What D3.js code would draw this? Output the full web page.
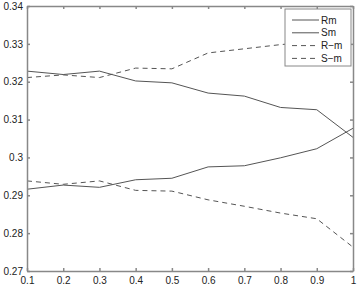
<!DOCTYPE html>
<html>
<head>
<meta charset="utf-8">
<script src="https://cdn.jsdelivr.net/npm/d3@7"></script>
<style>
  body { margin: 0; background: #fff; }
  text { font-family: "Liberation Sans", Arial, sans-serif; font-size: 10px; fill: #222; }
</style>
</head>
<body>
<svg id="chart" width="361" height="286"></svg>
<script>
const xs = [0.1, 0.2, 0.3, 0.4, 0.5, 0.6, 0.7, 0.8, 0.9, 1.0];
const rm = [0.3228, 0.3219, 0.3228, 0.3202, 0.3197, 0.3170, 0.3162, 0.3132, 0.3126, 0.3053];
const sm = [0.2916, 0.2927, 0.2921, 0.2941, 0.2945, 0.2975, 0.2978, 0.2999, 0.3023, 0.3077];
const rNeg = [0.3211, 0.3218, 0.3211, 0.3236, 0.3234, 0.3276, 0.3287, 0.3298, 0.3306, 0.3316];
const sNeg = [0.2938, 0.2929, 0.2938, 0.2913, 0.2911, 0.2888, 0.2871, 0.2853, 0.2838, 0.2763];
const xTicks = [0.1, 0.2, 0.3, 0.4, 0.5, 0.6, 0.7, 0.8, 0.9, 1];
const yTicks = [0.27, 0.28, 0.29, 0.3, 0.31, 0.32, 0.33, 0.34];

const series = [
  { name: 'Rm', values: rm, dash: null },
  { name: 'Sm', values: sm, dash: null },
  { name: 'R\u2212m', values: rNeg, dash: '5,4' },
  { name: 'S\u2212m', values: sNeg, dash: '5,4' },
];

const mLeft = 27, mRight = 353, mTop = 6, mBottom = 271;
const svg = d3.select('#chart');
const x = d3.scaleLinear().domain([0.1, 1]).range([mLeft, mRight]);
const y = d3.scaleLinear().domain([0.27, 0.34]).range([mBottom, mTop]);

const axisColor = '#888';
const lineColor = '#555';

// lines
const line = d3.line().x((d, i) => x(xs[i])).y(d => y(d));
series.forEach(s => {
  svg.append('path')
    .attr('d', line(s.values))
    .attr('fill', 'none')
    .attr('stroke', lineColor)
    .attr('stroke-width', 1)
    .attr('stroke-dasharray', s.dash);
});

// box with inward ticks
const fmt = d => (d === 1 ? '1' : String(+d.toFixed(2)));
const bx = svg.append('g').attr('transform', `translate(0,${mBottom})`)
  .call(d3.axisBottom(x).tickValues(xTicks).tickSizeInner(-3).tickSizeOuter(0).tickPadding(6).tickFormat(fmt));
const tx = svg.append('g').attr('transform', `translate(0,${mTop})`)
  .call(d3.axisTop(x).tickValues(xTicks).tickSizeInner(-3).tickSizeOuter(0).tickFormat(''));
const ly = svg.append('g').attr('transform', `translate(${mLeft},0)`)
  .call(d3.axisLeft(y).tickValues(yTicks).tickSizeInner(-3).tickSizeOuter(0).tickPadding(6).tickFormat(fmt));
const ry = svg.append('g').attr('transform', `translate(${mRight},0)`)
  .call(d3.axisRight(y).tickValues(yTicks).tickSizeInner(-3).tickSizeOuter(0).tickFormat(''));
[bx, tx, ly, ry].forEach(g => {
  g.selectAll('path, line').attr('stroke', axisColor).attr('stroke-width', 1.5);
  g.selectAll('text').attr('fill', '#222').style('font-size', '10px').style('font-family', '"Liberation Sans", Arial, sans-serif');
});
ly.selectAll('text').attr('dx', 2);

// legend
const lg = svg.append('g').attr('transform', 'translate(285,9)');
lg.append('rect').attr('width', 66).attr('height', 57)
  .attr('fill', '#fff').attr('stroke', axisColor).attr('stroke-width', 1);
series.forEach((s, i) => {
  const yy = 11 + i * 12.8;
  lg.append('line').attr('x1', 7).attr('x2', 34).attr('y1', yy).attr('y2', yy)
    .attr('stroke', lineColor).attr('stroke-dasharray', s.dash);
  lg.append('text').attr('x', 36).attr('y', yy).attr('dy', '0.35em').text(s.name);
});
</script>
</body>
</html>
